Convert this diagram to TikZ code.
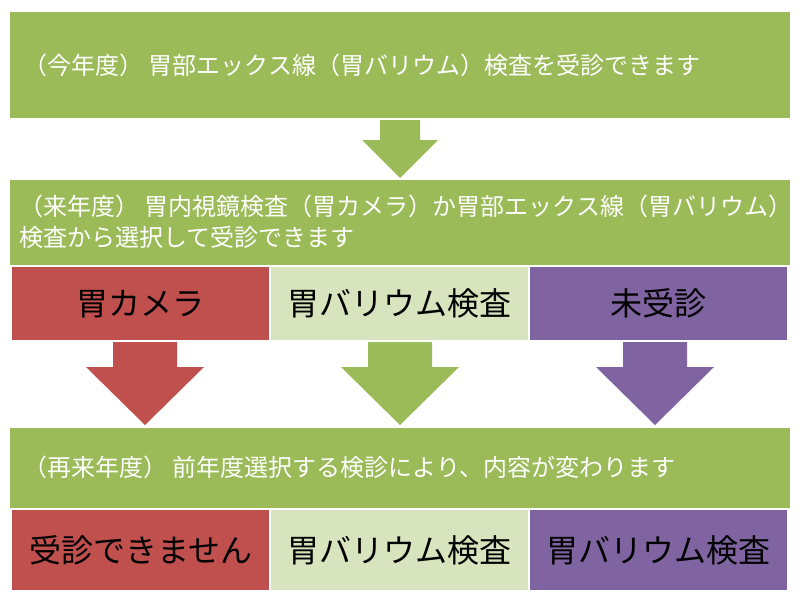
\documentclass[tikz,border=0pt]{standalone}
\usepackage{fontspec}
\setmainfont{Noto Sans CJK JP}
\definecolor{kgreen}{HTML}{9BBB59}
\definecolor{kred}{HTML}{C0504D}
\definecolor{kpurple}{HTML}{8064A2}
\definecolor{klight}{HTML}{D7E4BD}
\tikzset{
  band/.style={fill=kgreen, minimum width=780pt, anchor=north west, inner sep=0pt},
  bandtext/.style={text=white, font=\fontsize{24}{31}\selectfont, anchor=west, align=left},
  cell/.style={minimum width=257pt, anchor=north west, inner sep=0pt, font=\fontsize{32}{36}\selectfont},
}
% down arrow: #1 centre x, #2 top y, #3 colour, #4 half shaft, #5 half head, #6 shaft length, #7 total length
\newcommand{\flowarrow}[7]{%
  \fill[#3] (#1-#4,#2) -- (#1+#4,#2) -- (#1+#4,#2+#6) -- (#1+#5,#2+#6)
    -- (#1,#2+#7) -- (#1-#5,#2+#6) -- (#1-#4,#2+#6) -- cycle;}
\begin{document}
\begin{tikzpicture}[x=1pt, y=-1pt]
    \useasboundingbox (0,0) rectangle (800,600);
    % this year
    \node[band, minimum height=106pt] (now) at (10,12) {};
    \node[bandtext] (nowtxt) at (20,65) {（今年度） 胃部エックス線（胃バリウム）検査を受診できます};
    \flowarrow{400}{120}{kgreen}{20}{38}{20}{58}
    % next year
    \node[band, minimum height=85pt] (next) at (10,180) {};
    \node[bandtext] (nexttxt) at (16,222) {（来年度） 胃内視鏡検査（胃カメラ）か胃部エックス線（胃バリウム）\\検査から選択して受診できます};
    \node[cell, fill=kred, minimum height=73pt] (cam) at (12,267) {胃カメラ};
    \node[cell, fill=klight, minimum height=73pt] (bar) at (271,267) {胃バリウム検査};
    \node[cell, fill=kpurple, minimum height=73pt] (non) at (530,267) {未受診};
    \flowarrow{145}{342}{kred}{32}{59}{25}{83}
    \flowarrow{400}{342}{kgreen}{32}{59}{25}{83}
    \flowarrow{655}{342}{kpurple}{32}{59}{25}{83}
    % year after
    \node[band, minimum height=80pt] (after) at (10,428) {};
    \node[bandtext] (aftertxt) at (20,467) {（再来年度） 前年度選択する検診により、内容が変わります};
    \node[cell, fill=kred, minimum height=80pt] (camres) at (12,510) {受診できません};
    \node[cell, fill=klight, minimum height=80pt] (barres) at (271,510) {胃バリウム検査};
    \node[cell, fill=kpurple, minimum height=80pt] (nonres) at (530,510) {胃バリウム検査};
\end{tikzpicture}
\end{document}
